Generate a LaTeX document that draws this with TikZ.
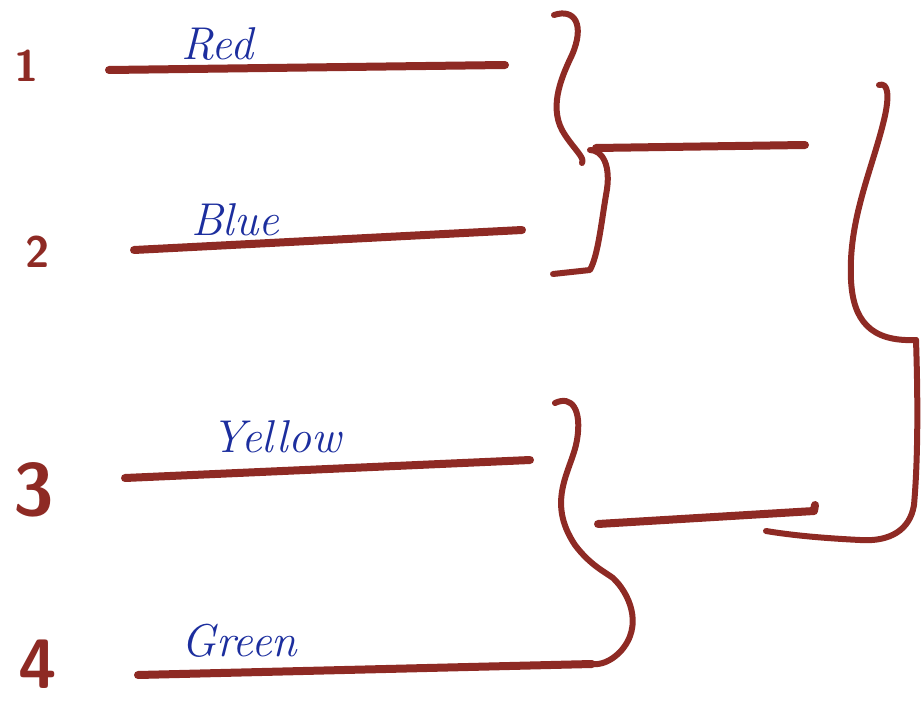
\documentclass[tikz,border=0pt]{standalone}
\usepackage{xcolor}
\definecolor{marker}{HTML}{8E2A24}
\definecolor{ink}{HTML}{1C2E9E}
\tikzset{
  pen/.style={draw=marker, line width=8pt, line cap=round, line join=round},
  thinpen/.style={draw=marker, line width=6pt, line cap=round, line join=round},
  lbl/.style={text=ink, font=\fontsize{46}{50}\selectfont\itshape, inner sep=0pt, anchor=base west},
  num/.style={text=marker, font=\fontsize{#1}{#1}\selectfont\sffamily\bfseries, inner sep=0pt, anchor=center},
}
\begin{document}
\begin{tikzpicture}[x=1pt, y=-1pt]
\useasboundingbox (0,0) rectangle (922,709);
% numbers
\node[num=44] (n1) at (27,66) {1};
\node[num=44] (n2) at (38,252) {2};
\node[num=74] (n3) at (34,490) {3};
\node[num=70] (n4) at (38,664) {4};
% labels
\node[lbl] (t1) at (181,60) {Red};
\node[lbl] (t2) at (191,235) {Blue};
\node[lbl] (t3) at (211,452) {Yellow};
\node[lbl] (t4) at (181,656) {Green};
% item lines
\coordinate (a1) at (109,70);  \coordinate (b1) at (505,65);
\coordinate (a2) at (134,250); \coordinate (b2) at (522,230);
\coordinate (a3) at (125,478); \coordinate (b3) at (530,460);
\coordinate (a4) at (138,675); \coordinate (b4) at (592,664);
\draw[pen] (a1) -- (b1);
\draw[pen] (a2) -- (b2);
\draw[pen] (a3) -- (b3);
\draw[pen] (a4) -- (b4);
% bracket 1
\coordinate (k1) at (554,15);
\coordinate (m1) at (582,163);
\coordinate (j1) at (590,150);
\coordinate (e1) at (553,274);
\draw[thinpen] (k1) .. controls (575,8) and (585,25) .. (572,55)
  .. controls (560,80) and (548,110) .. (565,135)
  .. controls (575,150) and (585,158) .. (m1);
\draw[thinpen] (j1) .. controls (602,150) and (612,165) .. (606,195)
  .. controls (601,225) and (598,255) .. (590,270) -- (e1);
\coordinate (h1a) at (596,148); \coordinate (h1b) at (805,145);
\draw[pen] (h1a) -- (h1b);
% bracket 2
\coordinate (k2) at (555,403);
\draw[thinpen] (k2) .. controls (572,395) and (582,410) .. (577,440)
  .. controls (572,470) and (545,500) .. (575,545)
  .. controls (590,565) and (605,572) .. (613,578)
  .. controls (628,592) and (645,625) .. (620,652)
  .. controls (610,662) and (600,665) .. (b4);
\coordinate (h2a) at (598,524); \coordinate (h2b) at (814,511);
\draw[pen] (h2a) -- (h2b) -- (815,505);
% big bracket
\coordinate (k3) at (879,85);
\coordinate (j3) at (916,340);
\draw[thinpen] (k3) .. controls (888,82) and (890,95) .. (884,120)
  .. controls (872,170) and (848,220) .. (851,280)
  .. controls (853,320) and (870,342) .. (j3);
\coordinate (e3) at (766,531);
\draw[thinpen] (j3) .. controls (918,400) and (918,460) .. (914,505)
  .. controls (910,530) and (890,542) .. (860,540)
  .. controls (820,538) and (790,535) .. (e3);
\end{tikzpicture}
\end{document}
